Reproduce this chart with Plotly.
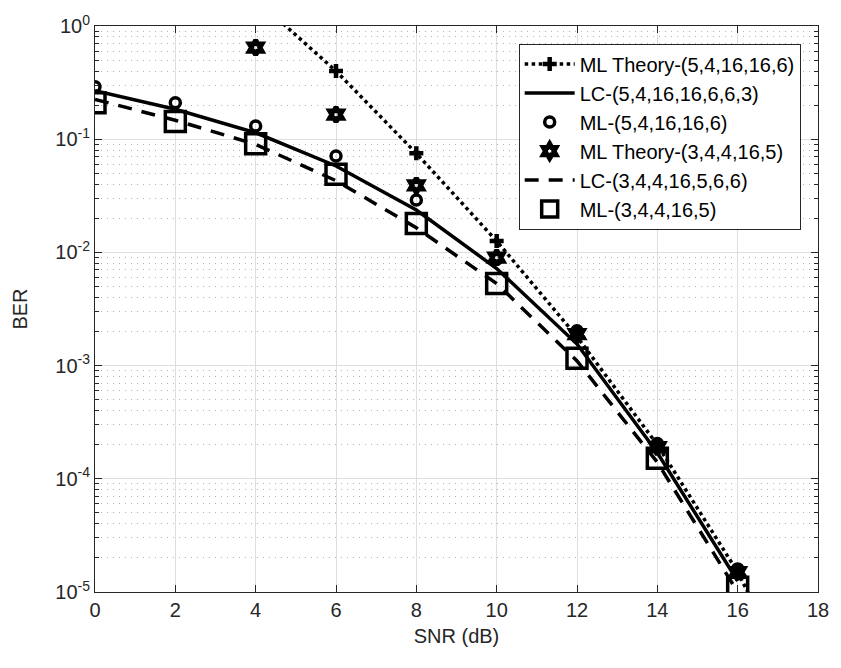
import plotly.graph_objects as go

snr = [0, 2, 4, 6, 8, 10, 12, 14, 16]
snr_theory1 = [0, 2, 4, 6, 8, 10, 12, 14, 16, 18]
theory1 = [20, 6.5, 1.73, 0.40, 0.075, 0.0126, 0.0018, 2.0e-4, 1.5e-5, 6e-7]
lc1 = [0.268, 0.184, 0.114, 0.058, 0.0237, 0.0072, 0.00155, 1.7e-4, 1.25e-5]
ml1 = [0.29, 0.21, 0.131, 0.071, 0.029, 0.0087, 0.00203, 2.05e-4, 1.6e-5]
theory2 = [12, 3.2, 0.645, 0.165, 0.039, 0.009, 0.0019, 1.9e-4, 1.5e-5]
lc2 = [0.225, 0.147, 0.090, 0.043, 0.0165, 0.0053, 0.0011, 1.4e-4, 1.0e-5]
ml2 = [0.21, 0.143, 0.091, 0.049, 0.018, 0.0053, 0.00116, 1.52e-4, 1.1e-5]

names = ["ML Theory-(5,4,16,16,6)", "LC-(5,4,16,16,6,6,3)", "ML-(5,4,16,16,6)",
         "ML Theory-(3,4,4,16,5)", "LC-(3,4,4,16,5,6,6)", "ML-(3,4,4,16,5)"]

yticks = [1e-5, 1e-4, 1e-3, 1e-2, 1e-1, 1e0]
yticktext = ["10<sup>-5</sup>", "10<sup>-4</sup>", "10<sup>-3</sup>", "10<sup>-2</sup>",
             "10<sup>-1</sup>", "10<sup>0</sup>"]
xticks = [0, 2, 4, 6, 8, 10, 12, 14, 16, 18]

K = "black"
fig = go.Figure()
fig.add_trace(go.Scatter(x=snr_theory1, y=theory1, name=names[0], mode="lines+markers",
                         line=dict(color=K, width=3.5, dash="dot"),
                         marker=dict(symbol="cross-thin-open", size=10, color=K,
                                     line=dict(color=K, width=4.5))))
fig.add_trace(go.Scatter(x=snr, y=lc1, name=names[1], mode="lines",
                         line=dict(color=K, width=3.5)))
fig.add_trace(go.Scatter(x=snr, y=ml1, name=names[2], mode="markers",
                         marker=dict(symbol="circle-open", size=10, color=K,
                                     line=dict(color=K, width=3.5))))
fig.add_trace(go.Scatter(x=snr, y=theory2, name=names[3], mode="markers",
                         marker=dict(symbol="hexagram-open", size=11, color=K,
                                     line=dict(color=K, width=5))))
fig.add_trace(go.Scatter(x=snr, y=lc2, name=names[4], mode="lines",
                         line=dict(color=K, width=3.5, dash="14px,10px")))
fig.add_trace(go.Scatter(x=snr, y=ml2, name=names[5], mode="markers",
                         marker=dict(symbol="square-open", size=20, color=K,
                                     line=dict(color=K, width=3.5))))

axcol = "#262626"
FS = 20
fig.update_layout(
    width=841, height=668,
    margin=dict(l=95, r=14, t=14, b=76),
    paper_bgcolor="white", plot_bgcolor="white",
    font=dict(family="Liberation Sans", size=FS, color=axcol),
    showlegend=True,
    legend=dict(x=0.586, y=0.969, xanchor="left", yanchor="top",
                bgcolor="white", bordercolor=axcol, borderwidth=1,
                font=dict(family="Liberation Sans", size=FS, color=K),
                itemwidth=50, tracegroupgap=0),
    xaxis=dict(range=[0, 18], tickvals=xticks, showline=True, linecolor=axcol, linewidth=1,
               mirror="ticks", ticks="inside", ticklen=7, tickcolor=axcol,
               tickfont=dict(family="Liberation Sans", size=FS, color=axcol),
               ticklabeloverflow="allow",
               showgrid=True, gridcolor="#dedede", gridwidth=1, zeroline=False,
               title=dict(text="SNR (dB)", standoff=8,
                          font=dict(family="Liberation Sans", size=FS, color=axcol))),
    yaxis=dict(type="log", range=[-5, 0], tickvals=yticks, ticktext=yticktext,
               showline=True, linecolor=axcol, linewidth=1, mirror="ticks",
               ticks="inside", ticklen=7, tickcolor=axcol,
               tickfont=dict(family="Liberation Sans", size=FS, color=axcol),
               ticklabeloverflow="allow",
               showgrid=True, gridcolor="#dedede", gridwidth=1, zeroline=False,
               minor=dict(dtick="D1", showgrid=True, gridcolor="#b4b4b4", griddash="1px,5px",
                          gridwidth=1, ticks="inside", ticklen=4, tickcolor=axcol),
               title=dict(text="BER", standoff=22,
                          font=dict(family="Liberation Sans", size=FS, color=axcol))),
)
fig.write_html("out.html")
